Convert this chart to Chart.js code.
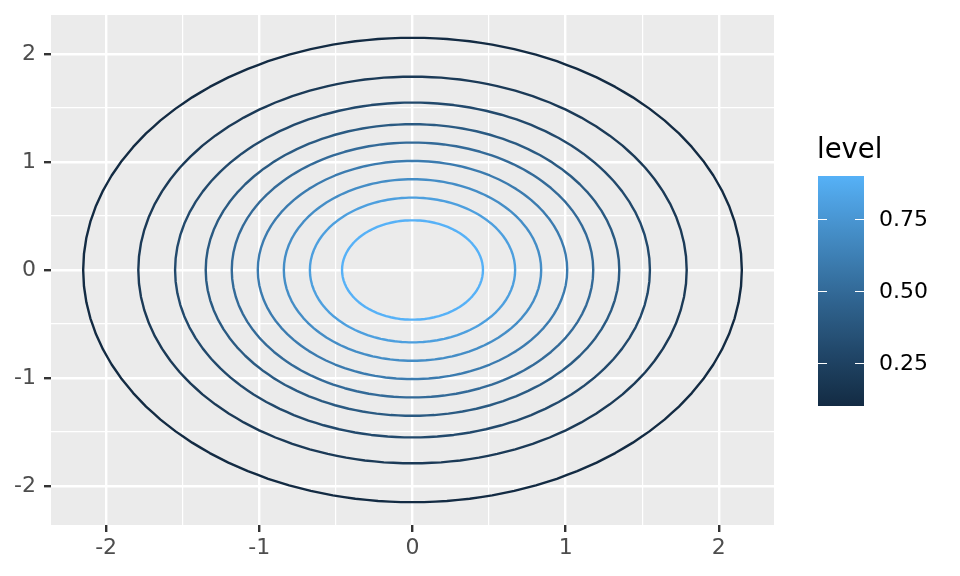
<!DOCTYPE html>
<html lang="en">
<head>
    <meta charset="UTF-8">
    <title>Contour levels</title>
    <script src="https://cdn.jsdelivr.net/npm/chart.js"></script>
    <style>
        body { margin: 0; background: #ffffff; }
        #wrap { width: 960px; height: 576px; }
    </style>
</head>
<body>
    <div id="wrap"><canvas id="contourChart" width="960" height="576"></canvas></div>

    <script>
        // contour levels and the radius of each contour
        const levels = [0.1, 0.2, 0.3, 0.4, 0.5, 0.6, 0.7, 0.8, 0.9];
        const radii = [2.15, 1.79, 1.55, 1.35, 1.18, 1.01, 0.84, 0.67, 0.46];
        const axisTicks = [-2, -1, 0, 1, 2];
        const legendTicks = [0.25, 0.50, 0.75];
        const levelRange = [0.1, 0.9];

        // colour scale: dark navy -> light blue, blended in Lab like ggplot
        const lowCol = '#132B43', highCol = '#56B1F7';

        function toLab(hex) {
            let c = [1, 3, 5].map(i => parseInt(hex.substr(i, 2), 16) / 255)
                .map(v => v <= 0.04045 ? v / 12.92 : Math.pow((v + 0.055) / 1.055, 2.4));
            let X = (0.4124 * c[0] + 0.3576 * c[1] + 0.1805 * c[2]) / 0.95047;
            let Y = (0.2126 * c[0] + 0.7152 * c[1] + 0.0722 * c[2]);
            let Z = (0.0193 * c[0] + 0.1192 * c[1] + 0.9505 * c[2]) / 1.08883;
            const f = t => t > 0.008856 ? Math.cbrt(t) : 7.787 * t + 16 / 116;
            return [116 * f(Y) - 16, 500 * (f(X) - f(Y)), 200 * (f(Y) - f(Z))];
        }
        function fromLab(lab) {
            let fy = (lab[0] + 16) / 116, fx = fy + lab[1] / 500, fz = fy - lab[2] / 200;
            const g = t => t * t * t > 0.008856 ? t * t * t : (t - 16 / 116) / 7.787;
            let X = g(fx) * 0.95047, Y = g(fy), Z = g(fz) * 1.08883;
            let r = 3.2406 * X - 1.5372 * Y - 0.4986 * Z;
            let gg = -0.9689 * X + 1.8758 * Y + 0.0415 * Z;
            let b = 0.0557 * X - 0.2040 * Y + 1.0570 * Z;
            return 'rgb(' + [r, gg, b].map(v => {
                v = v <= 0.0031308 ? 12.92 * v : 1.055 * Math.pow(v, 1 / 2.4) - 0.055;
                return Math.round(Math.max(0, Math.min(1, v)) * 255);
            }).join(',') + ')';
        }
        const labLow = toLab(lowCol), labHigh = toLab(highCol);
        function levelColour(v) {
            let t = (v - levelRange[0]) / (levelRange[1] - levelRange[0]);
            return fromLab(labLow.map((l, i) => l + (labHigh[i] - l) * t));
        }

        // trace each contour around the centre
        function ring(r) {
            const pts = [];
            const n = 90;
            for (let i = 0; i <= n; i++) {
                const a = i / n * 2 * Math.PI;
                pts.push({ x: r * Math.cos(a), y: r * Math.sin(a) });
            }
            return pts;
        }

        const datasets = levels.map((lv, i) => ({
            label: String(lv),
            data: ring(radii[i]),
            showLine: true,
            borderColor: levelColour(lv),
            borderWidth: 2.4,
            borderJoinStyle: 'round',
            pointRadius: 0,
            tension: 0.001,   // keeps chart.js off its fast-path (no vertical spikes)
            fill: false
        }));

        const panel = {
            id: 'panel',
            beforeDraw(chart) {
                const a = chart.chartArea, ctx = chart.ctx;
                ctx.save();
                ctx.fillStyle = '#EBEBEB';
                ctx.fillRect(a.left, a.top, a.right - a.left, a.bottom - a.top);
                ctx.restore();
            }
        };

        // colour bar legend on the right
        const colourBar = {
            id: 'colourBar',
            afterDraw(chart) {
                const ctx = chart.ctx;
                const x0 = 818, w = 46, top = 176, bot = 406;
                const yOf = v => bot - (v - levelRange[0]) / (levelRange[1] - levelRange[0]) * (bot - top);
                ctx.save();
                const grad = ctx.createLinearGradient(0, bot, 0, top);
                for (let k = 0; k <= 20; k++) {
                    const v = levelRange[0] + k / 20 * (levelRange[1] - levelRange[0]);
                    grad.addColorStop(k / 20, levelColour(v));
                }
                ctx.fillStyle = grad;
                ctx.fillRect(x0, top, w, bot - top);

                ctx.strokeStyle = '#ffffff';
                ctx.lineWidth = 1;
                ctx.fillStyle = '#000000';
                ctx.font = '22px "DejaVu Sans"';
                ctx.textBaseline = 'middle';
                ctx.textAlign = 'left';
                legendTicks.forEach(v => {
                    const y = Math.round(yOf(v)) + 0.5;
                    ctx.beginPath();
                    ctx.moveTo(x0, y); ctx.lineTo(x0 + 9, y);
                    ctx.moveTo(x0 + w - 9, y); ctx.lineTo(x0 + w, y);
                    ctx.stroke();
                    ctx.fillText(v.toFixed(2), 879, y + 1);
                });
                ctx.font = '27.5px "DejaVu Sans"';
                ctx.textBaseline = 'alphabetic';
                ctx.fillText('level', 817, 158);
                ctx.restore();
            }
        };

        const isMajor = v => axisTicks.includes(v);

        const axisCommon = {
            type: 'linear',
            min: -2.36,
            max: 2.36,
            border: { display: false },
            grid: {
                color: '#ffffff',
                lineWidth: c => (c.tick && isMajor(c.tick.value)) ? 2.4 : 1.2,
                tickColor: c => (c.tick && isMajor(c.tick.value)) ? '#333333' : 'rgba(0,0,0,0)',
                tickLength: 7,
                tickWidth: 2.4
            },
            ticks: {
                stepSize: 0.5,
                includeBounds: false,
                autoSkip: false,
                maxRotation: 0,
                color: '#4D4D4D',
                font: { family: 'DejaVu Sans', size: 22 },
                callback: v => isMajor(v) ? String(v) : ''
            }
        };

        new Chart(document.getElementById('contourChart').getContext('2d'), {
            type: 'scatter',
            data: { datasets: datasets },
            options: {
                responsive: false,
                animation: false,
                layout: { padding: { left: 0, right: 186, top: 15, bottom: 0 } },
                plugins: { legend: { display: false }, tooltip: { enabled: false } },
                scales: {
                    x: Object.assign({}, axisCommon, {
                        ticks: Object.assign({}, axisCommon.ticks, { padding: 3 }),
                        afterFit: s => { s.height = 51; s.paddingLeft = 0; s.paddingRight = 0; }
                    }),
                    y: Object.assign({}, axisCommon, {
                        ticks: Object.assign({}, axisCommon.ticks, { padding: 8 }),
                        afterFit: s => { s.width = 51; s.paddingTop = 0; s.paddingBottom = 0; }
                    })
                }
            },
            plugins: [panel, colourBar]
        });
    </script>
</body>
</html>
